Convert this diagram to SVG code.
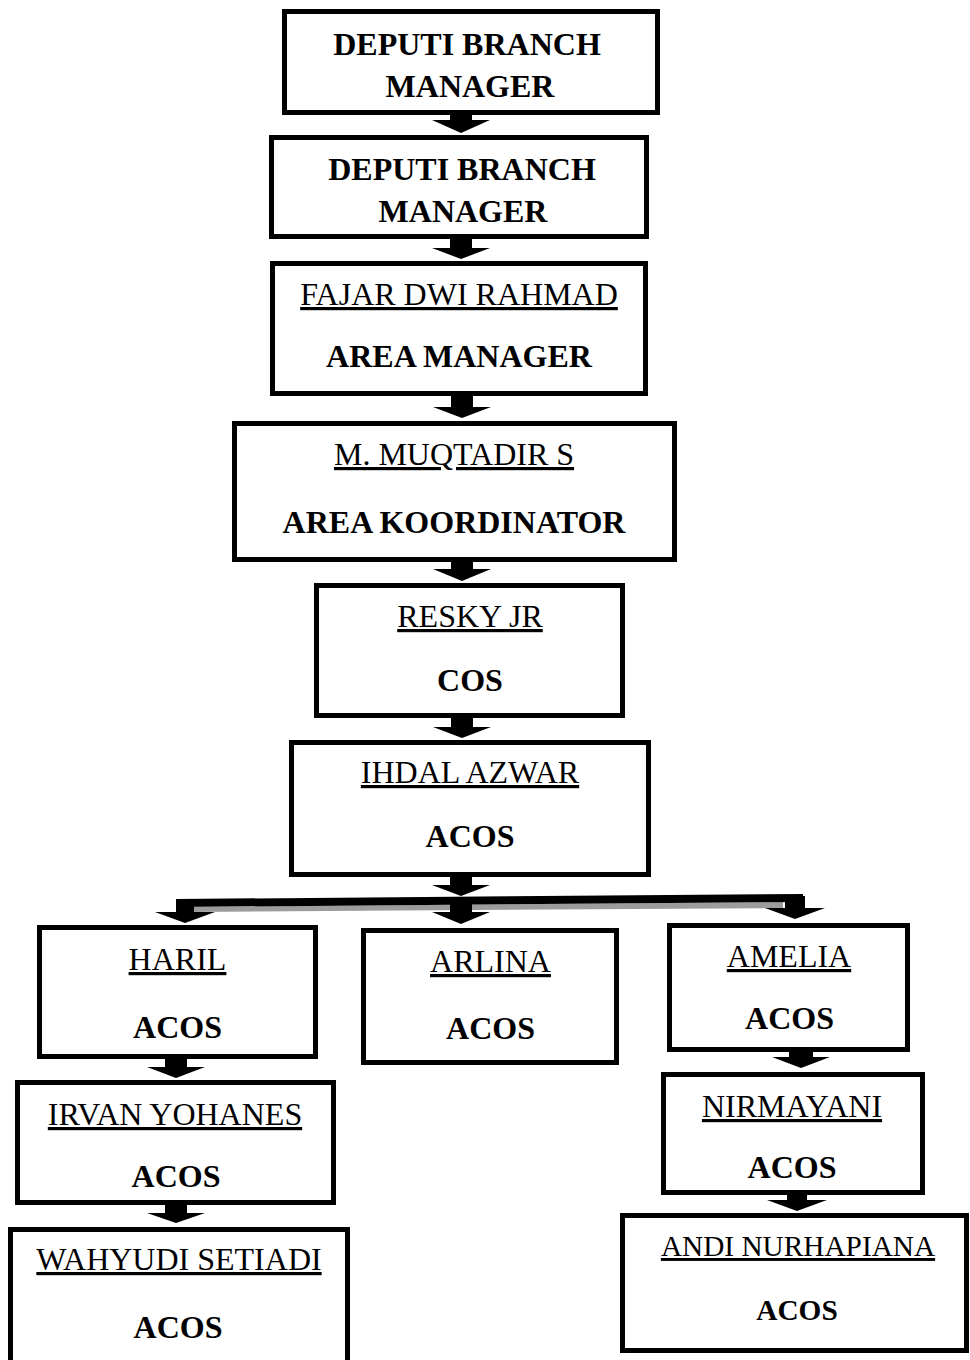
<svg xmlns="http://www.w3.org/2000/svg" width="970" height="1360" viewBox="0 0 970 1360">
<style>
.box{fill:#fff;stroke:#000;stroke-width:5}
.arr{fill:#000}
.t{font-family:"Liberation Serif","Times New Roman",serif;font-size:32px;text-anchor:middle;fill:#000}
.s{font-size:29.3px}
.b{font-weight:bold}
.n{text-decoration:underline}
</style>
<rect width="970" height="1360" fill="#fff"/>
<g id="nodes">
<g id="n1"><rect class="box" x="284.5" y="11.5" width="373" height="101"/><text class="t b" x="467" y="55">DEPUTI BRANCH</text><text class="t b" x="470" y="97">MANAGER</text></g>
<g id="n2"><rect class="box" x="271.5" y="137.5" width="375" height="99"/><text class="t b" x="462" y="180">DEPUTI BRANCH</text><text class="t b" x="463" y="222">MANAGER</text></g>
<g id="n3"><rect class="box" x="272.5" y="263.5" width="373" height="130"/><text class="t n" x="459" y="305">FAJAR DWI RAHMAD</text><text class="t b" x="459" y="367">AREA MANAGER</text></g>
<g id="n4"><rect class="box" x="234.5" y="423.5" width="440" height="136"/><text class="t n" x="454" y="465">M. MUQTADIR S</text><text class="t b" x="454" y="533">AREA KOORDINATOR</text></g>
<g id="n5"><rect class="box" x="316.5" y="585.5" width="306" height="130"/><text class="t n" x="470" y="627">RESKY JR</text><text class="t b" x="470" y="691">COS</text></g>
<g id="n6"><rect class="box" x="291.5" y="742.5" width="357" height="132"/><text class="t n" x="470" y="783">IHDAL AZWAR</text><text class="t b" x="470" y="847">ACOS</text></g>
<g id="n7"><rect class="box" x="39.5" y="927.5" width="276" height="129"/><text class="t n" x="177.5" y="970">HARIL</text><text class="t b" x="177.5" y="1038">ACOS</text></g>
<g id="n8"><rect class="box" x="363.5" y="930.5" width="253" height="132"/><text class="t n" x="490.5" y="972">ARLINA</text><text class="t b" x="490.5" y="1039">ACOS</text></g>
<g id="n9"><rect class="box" x="669.5" y="925.5" width="238" height="124"/><text class="t n" x="789" y="967">AMELIA</text><text class="t b" x="789.5" y="1029">ACOS</text></g>
<g id="n10"><rect class="box" x="17.5" y="1082.5" width="316" height="120"/><text class="t n" x="175" y="1125">IRVAN YOHANES</text><text class="t b" x="176" y="1187">ACOS</text></g>
<g id="n11"><rect class="box" x="10.5" y="1229.5" width="337" height="140"/><text class="t n" x="179" y="1270">WAHYUDI SETIADI</text><text class="t b" x="178" y="1338">ACOS</text></g>
<g id="n12"><rect class="box" x="663.5" y="1074.5" width="259" height="118"/><text class="t n" x="792" y="1117">NIRMAYANI</text><text class="t b" x="792" y="1178">ACOS</text></g>
<g id="n13"><rect class="box" x="622.5" y="1215.5" width="344" height="135"/><text class="t n s" x="798" y="1256">ANDI NURHAPIANA</text><text class="t b s" x="797" y="1320">ACOS</text></g>
</g>
<g id="connectors">
<polygon class="arr" points="450,113 472,113 472,120 490,120 461,133 432,120 450,120"/>
<polygon class="arr" points="450,237 472,237 472,248 490,248 461,259 432,248 450,248"/>
<polygon class="arr" points="451,394 473,394 473,407 491,407 462,418 433,407 451,407"/>
<polygon class="arr" points="451,560 473,560 473,569 491,569 462,581 433,569 451,569"/>
<polygon class="arr" points="451,716 473,716 473,727 491,727 462,738 433,727 451,727"/>
<polygon class="arr" points="450,875 472,875 472,885 490,885 461,896 432,885 450,885"/>
<polygon fill="#9c9c9c" points="194,907 783,902 783,908 194,912"/>
<polygon class="arr" points="176,899 803,894 803,902 176,907"/>
<polygon class="arr" points="450,904 472,904 472,912 490,912 461,924 432,912 450,912"/>
<polygon class="arr" points="176,900 194,900 194,912 215,912 185,923 155,912 176,912"/>
<polygon class="arr" points="785,896 805,896 805,908 825,908 795,919 765,908 785,908"/>
<polygon class="arr" points="165,1056 187,1056 187,1067 205,1067 176,1078 147,1067 165,1067"/>
<polygon class="arr" points="165,1203 187,1203 187,1213 205,1213 176,1223 147,1213 165,1213"/>
<polygon class="arr" points="789,1050 813,1050 813,1057 830,1057 801,1068 772,1057 789,1057"/>
<polygon class="arr" points="787,1193 807,1193 807,1200 827,1200 797,1211 767,1200 787,1200"/>
</g>
</svg>
